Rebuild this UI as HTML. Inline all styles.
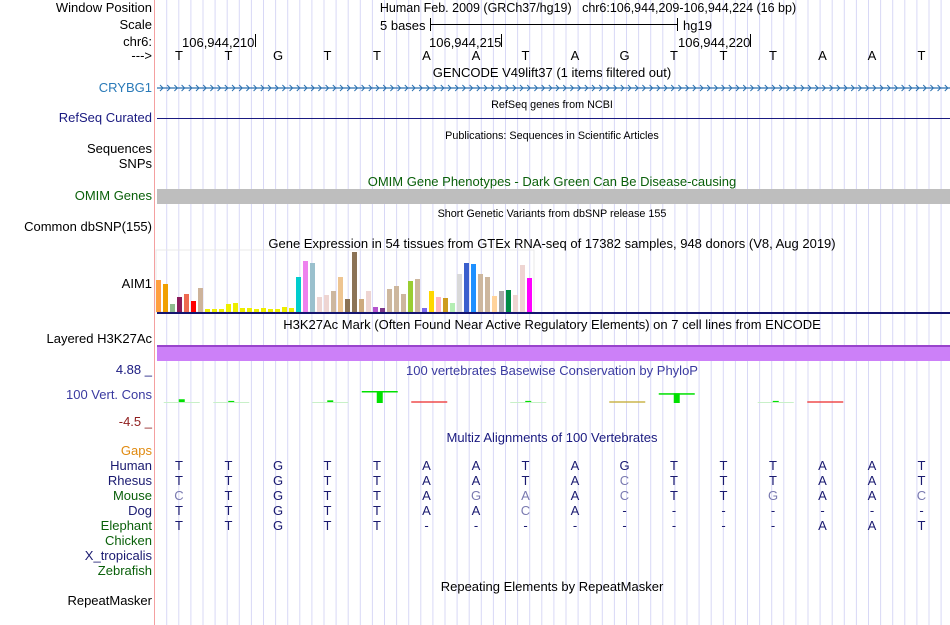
<!DOCTYPE html>
<html><head><meta charset="utf-8"><style>
body{margin:0;width:950px;height:625px;overflow:hidden;background:#fff;font-family:"Liberation Sans",sans-serif;position:relative}
.a{position:absolute;white-space:nowrap}
.lb{position:absolute;right:798px;font-size:13px;text-align:right;white-space:nowrap;line-height:14px}
.t{position:absolute;font-size:13px;line-height:14px;white-space:nowrap;transform:translateX(-50%)}
.s{font-size:10.8px}
</style></head><body>
<svg id="grid" width="950" height="625" style="position:absolute;left:0;top:0"></svg>
<div class="a" style="left:154px;top:0;width:1px;height:625px;background:#f4a0a0"></div>

<div class="lb" style="top:1px">Window Position</div>
<div class="lb" style="top:18px">Scale</div>
<div class="lb" style="top:35px">chr6:</div>
<div class="lb" style="top:49px">---&gt;</div>
<div class="lb" style="top:81px;color:#2a7ab8">CRYBG1</div>
<div class="lb" style="top:111px;color:#1a1a80">RefSeq Curated</div>
<div class="lb" style="top:142px">Sequences</div>
<div class="lb" style="top:157px">SNPs</div>
<div class="lb" style="top:189px;color:#0a600a">OMIM Genes</div>
<div class="lb" style="top:220px">Common dbSNP(155)</div>
<div class="lb" style="top:277px">AIM1</div>
<div class="lb" style="top:332px">Layered H3K27Ac</div>
<div class="lb" style="top:363px;color:#1a1a80">4.88 _</div>
<div class="lb" style="top:388px;color:#3a3aa0">100 Vert. Cons</div>
<div class="lb" style="top:415px;color:#902020">-4.5 _</div>
<div class="lb" style="top:444px;color:#e08a10">Gaps</div>
<div class="lb" style="top:459px;color:#1a1a70">Human</div>
<div class="lb" style="top:474px;color:#1a1a70">Rhesus</div>
<div class="lb" style="top:489px;color:#0a600a">Mouse</div>
<div class="lb" style="top:504px;color:#1a1a70">Dog</div>
<div class="lb" style="top:519px;color:#0a600a">Elephant</div>
<div class="lb" style="top:534px;color:#0a600a">Chicken</div>
<div class="lb" style="top:549px;color:#1a1a70">X_tropicalis</div>
<div class="lb" style="top:564px;color:#0a600a">Zebrafish</div>
<div class="lb" style="top:594px">RepeatMasker</div>

<div class="t" style="left:588px;top:1px;font-size:12.5px">Human Feb. 2009 (GRCh37/hg19)&nbsp;&nbsp;&nbsp;chr6:106,944,209-106,944,224 (16 bp)</div>
<div class="a" style="left:380px;top:18px;font-size:13px">5 bases</div>
<div class="a" style="left:430px;top:24px;width:247px;height:1px;background:#000"></div>
<div class="a" style="left:430px;top:18px;width:1px;height:13px;background:#000"></div>
<div class="a" style="left:677px;top:18px;width:1px;height:13px;background:#000"></div>
<div class="a" style="left:683px;top:18px;font-size:13px">hg19</div>
<div class="a" style="left:182px;top:35px;font-size:13px">106,944,210</div>
<div class="a" style="left:255px;top:34px;width:1px;height:13px;background:#000"></div>
<div class="a" style="left:429px;top:35px;font-size:13px">106,944,215</div>
<div class="a" style="left:501px;top:34px;width:1px;height:13px;background:#000"></div>
<div class="a" style="left:678px;top:35px;font-size:13px">106,944,220</div>
<div class="a" style="left:750px;top:34px;width:1px;height:13px;background:#000"></div>

<div class="t" style="left:552px;top:66px">GENCODE V49lift37 (1 items filtered out)</div>
<div class="t s" style="left:552px;top:98px">RefSeq genes from NCBI</div>
<div class="a" style="left:157px;top:118px;width:793px;height:1px;background:#1a1a80"></div>
<div class="t s" style="left:552px;top:129px">Publications: Sequences in Scientific Articles</div>
<div class="t" style="left:552px;top:175px;color:#0a600a">OMIM Gene Phenotypes - Dark Green Can Be Disease-causing</div>
<div class="a" style="left:157px;top:189px;width:793px;height:15px;background:#bebebe"></div>
<div class="t s" style="left:552px;top:207px">Short Genetic Variants from dbSNP release 155</div>
<div class="t" style="left:552px;top:237px">Gene Expression in 54 tissues from GTEx RNA-seq of 17382 samples, 948 donors (V8, Aug 2019)</div>
<div class="t" style="left:552px;top:318px">H3K27Ac Mark (Often Found Near Active Regulatory Elements) on 7 cell lines from ENCODE</div>
<div class="a" style="left:157px;top:345px;width:793px;height:16px;background:#cc80f8;border-top:2px solid #9944cc;box-sizing:border-box"></div>
<div class="t" style="left:552px;top:364px;color:#3a3aa0">100 vertebrates Basewise Conservation by PhyloP</div>
<div class="t" style="left:552px;top:431px;color:#1a1a80">Multiz Alignments of 100 Vertebrates</div>
<div class="t" style="left:552px;top:580px">Repeating Elements by RepeatMasker</div>

<svg id="chart" width="950" height="625" style="position:absolute;left:0;top:0"></svg>
<div id="letters"></div>

<script>
const gtexValues=[32,28,8,15,18,11,24,3,3,3,8,9,4,4,3,4,3,3,5,4,35,51,49,15,17,21,35,13,60,13,21,5,4,23,26,18,31,33,4,21,15,14,9,38,49,48,38,35,16,21,22,17,47,34];
const gtexColors=["#ff9f40","#f0a000","#8fbc8f","#8b1a5a","#ee6a50","#ff0000","#cdb39b","#eeee00","#eeee00","#eeee00","#eeee00","#eeee00","#eeee00","#eeee00","#eeee00","#eeee00","#eeee00","#eeee00","#eeee00","#eeee00","#00cdcd","#ee82ee","#9ac0cd","#eed5d2","#eed5d2","#cdb79e","#eec591","#8b7355","#8b7355","#cdaa7d","#eed5d2","#b452cd","#7a378b","#cdb79e","#cdb79e","#cdb79e","#9acd32","#cdb79e","#7a67ee","#ffd700","#ffb6c1","#cd9b1d","#b4eeb4","#d9d9d9","#3a5fcd","#1e90ff","#cdb79e","#cdb79e","#ffd39b","#a6a6a6","#008b45","#eed5d2","#eed5d2","#ff00ff"];
const bases=["T","T","G","T","T","A","A","T","A","G","T","T","T","A","A","T"];
const species=["Human","Rhesus","Mouse","Dog","Elephant"];
const alignments=["TTGTTAATAGTTTAAT","TTGTTAATACTTTAAT","CTGTTAGAACTTGAAC","TTGTTAACA-------","TTGTT--------AAT"];
const phyloPos=[0.5,1.5,3.5,4.5,5.5,7.5,9.5,10.5,12.5,13.5];
const phyloVal=[0.25,0.1,0.15,1.0,-0.1,0.1,-0.15,0.8,0.1,-0.1];

const NS="http://www.w3.org/2000/svg";
const svg=document.getElementById('chart'), grid=document.getElementById('grid');
function mk(tag,at,parent){const e=document.createElementNS(NS,tag);for(const k in at)e.setAttribute(k,at[k]);(parent||svg).appendChild(e);return e;}
for(let x=166.7;x<950;x+=12.1){const l=mk('line',{x1:x,y1:0,x2:x,y2:625,stroke:'#d8d8f6','stroke-width':1},grid);

}
const baseX=i=>179+49.5*i;
const L=document.getElementById('letters');
bases.forEach((b,i)=>{const d=document.createElement('div');d.className='t';d.style.left=baseX(i)+'px';d.style.top='49px';d.textContent=b;


L.appendChild(d);});
const g=mk('line',{x1:157,y1:88,x2:950,y2:88,stroke:'#2a70b0','stroke-width':1.2});


for(let x=160;x<948;x+=7.2){const c=mk('polyline',{points:`${x},85 ${x+3},88 ${x},91`,fill:'none',stroke:'#2a70b0','stroke-width':1});

}
const gBase=312, gScale=1.0, gx=i=>156+7*i;
const fr=mk('rect',{x:156,y:250,width:378,height:62,fill:'none',stroke:'#e8e8e8'});


gtexValues.forEach((v,i)=>{const r=mk('rect',{x:gx(i),y:gBase-v*gScale,width:5,height:v*gScale,fill:gtexColors[i]});

});
const bl=mk('rect',{x:157,y:312,width:793,height:2,fill:'#141470'});


const pBase=402, py=v=>pBase-v*11, px=p=>157+49.5*p;
phyloPos.forEach((p,i)=>{const v=phyloVal[i];const x=px(p);
 if(Math.abs(v)>=0.5){const y=py(v);
  const a=mk('rect',{x:x-18,y:y,width:36,height:1.5,fill:'#00e000'});
  const b=mk('rect',{x:x-3,y:y,width:6,height:pBase-y+1,fill:'#00e000'});
 } else if(v>0){const m=mk('rect',{x:x-3,y:py(v),width:6,height:Math.max(2,pBase-py(v)),fill:'#00e000'});
  const f=mk('rect',{x:x-18,y:pBase,width:36,height:1,fill:'#c8f0c8'});
 } else {const col=v<-0.12?'#c8b040':'#ee4040';const m=mk('rect',{x:x-18,y:pBase-1,width:36,height:2,fill:col,opacity:0.7});}
});
species.forEach((s,r)=>{const row=alignments[r];for(let i=0;i<row.length;i++){const c=row[i];const d=document.createElement('div');d.className='t';
 d.style.left=baseX(i)+'px';d.style.top=(459+15*r)+'px';
 d.style.color=(c==='-'||c===bases[i])?'#1a1a70':'#7a7ab0';d.textContent=c;
 
 
 L.appendChild(d);}});
</script>
</body></html>
